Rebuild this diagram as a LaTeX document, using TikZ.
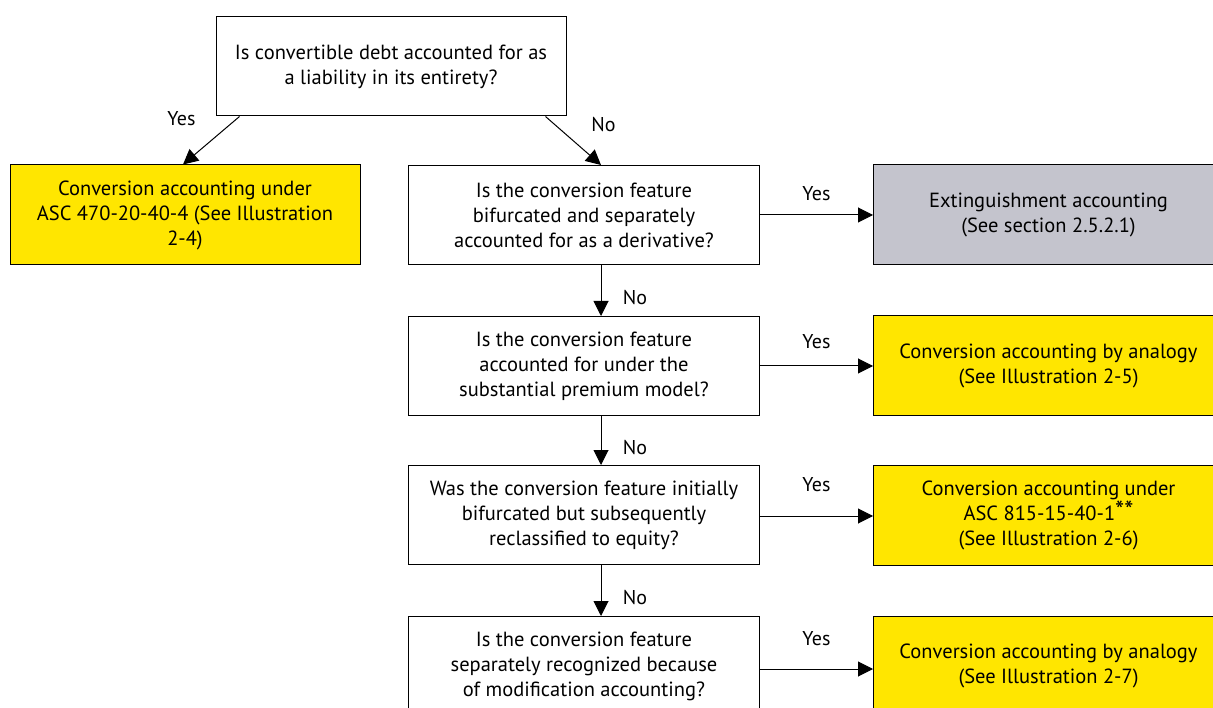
\documentclass[tikz,border=0pt]{standalone}
\usepackage{fontspec}
\setmainfont{PT Sans}
\usetikzlibrary{arrows.meta}
\definecolor{eyyellow}{RGB}{255,230,0}
\definecolor{eygray}{RGB}{196,196,205}
\begin{document}
\begin{tikzpicture}[x=1pt,y=-1pt,
    box/.style={draw,line width=1pt,align=center,inner sep=0pt,
      font=\fontsize{20.5}{25}\selectfont},
    qbox/.style={box,fill=white,minimum width=351pt,minimum height=99pt},
    ybox/.style={box,fill=eyyellow,minimum width=350pt,minimum height=100pt},
    gbox/.style={box,fill=eygray,minimum width=350pt,minimum height=100pt},
    arr/.style={line width=1pt,-{Triangle[length=15pt,width=15pt]}},
    lbl/.style={font=\fontsize{20}{22}\selectfont}]
\useasboundingbox (0,0) rectangle (1213,708);

% top question
\node[qbox,minimum width=350pt] (top) at (391,66.5) {Is convertible debt accounted for as\\a liability in its entirety?};
\node[ybox] (asc470) at (185,215) {Conversion accounting under\\ASC 470-20-40-4 (See Illustration\\2-4)};

% question column
\node[qbox] (q1) at (584,215) {Is the conversion feature\\bifurcated and separately\\accounted for as a derivative?};
\node[qbox] (q2) at (584,366) {Is the conversion feature\\accounted for under the\\substantial premium model?};
\node[qbox] (q3) at (584,515) {Was the conversion feature initially\\bifurcated but subsequently\\reclassified to equity?};
\node[qbox] (q4) at (584,666) {Is the conversion feature\\separately recognized because\\of modification accounting?};

% answers
\node[gbox,anchor=west] (ext) at (873,215) {Extinguishment accounting\\(See section 2.5.2.1)};
\node[ybox,anchor=west] (ana1) at (873,366) {Conversion accounting by analogy\\(See Illustration 2-5)};
\node[ybox,anchor=west] (asc815) at (873,515) {Conversion accounting under\\ASC 815-15-40-1{\fontsize{26}{26}\selectfont\raisebox{1pt}{**}}\\(See Illustration 2-6)};
\node[ybox,anchor=west] (ana2) at (873,666) {Conversion accounting by analogy\\(See Illustration 2-7)};

% connectors
\coordinate (tl) at ([xshift=24pt]top.south west);
\coordinate (tr) at ([xshift=-21pt]top.south east);
\draw[arr] (tl) -- ([xshift=-2pt]asc470.north) node[lbl,pos=0,xshift=-58pt,yshift=-2pt] {Yes};
\draw[arr] (tr) -- ([xshift=17pt]q1.north) node[lbl,pos=0,xshift=58pt,yshift=-8pt] {No};
\draw[arr] (q1) -- (ext) node[lbl,midway,yshift=21pt] {Yes};
\draw[arr] (q2) -- (ana1) node[lbl,midway,yshift=24pt] {Yes};
\draw[arr] ([yshift=-1pt]q3.east) -- ([yshift=-1pt]asc815.west) node[lbl,midway,yshift=31pt] {Yes};
\draw[arr] ([yshift=-3pt]q4.east) -- ([yshift=-3pt]ana2.west) node[lbl,midway,yshift=30pt] {Yes};
\foreach \a/\b in {q1/q2,q2/q3,q3/q4}
  \draw[arr] ([xshift=17pt]\a.south) -- ([xshift=17pt]\b.north) node[lbl,midway,xshift=34pt,yshift=-7pt] {No};
\end{tikzpicture}
\end{document}
